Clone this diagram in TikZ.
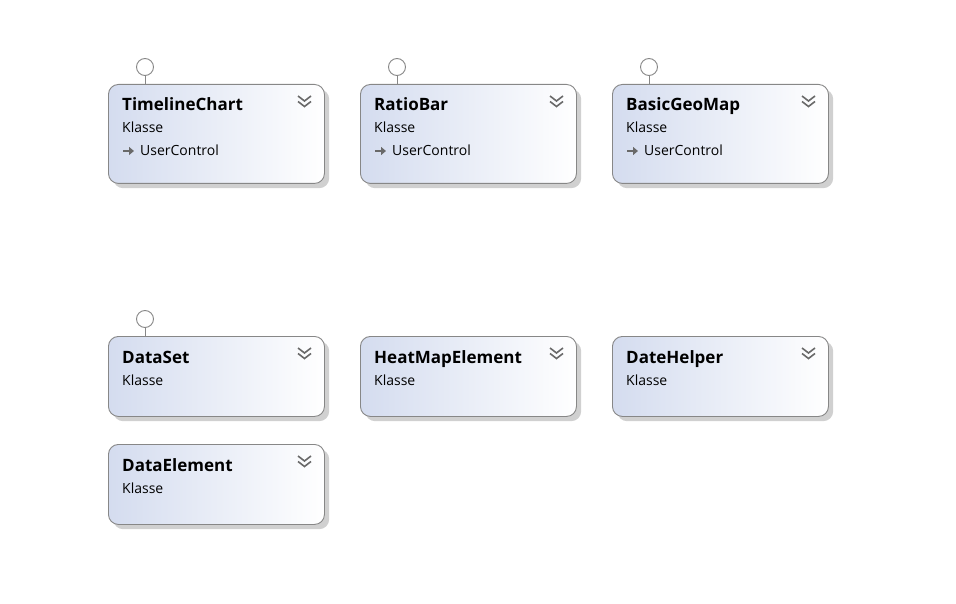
\documentclass[tikz,border=0pt]{standalone}
\usepackage{fontspec}
\setmainfont{Open Sans}
\usetikzlibrary{positioning,arrows.meta}

\definecolor{boxblue}{RGB}{212,220,239}
\definecolor{boxline}{RGB}{135,135,135}
\definecolor{boxshadow}{RGB}{208,208,208}
\definecolor{chevron}{RGB}{105,105,105}

\begin{document}
\begin{tikzpicture}[x=1pt, y=-1pt,
  classbox/.style = {shape=rectangle, rounded corners=10pt,
    draw=boxline, line width=0.9pt, anchor=north west, inner sep=0pt,
    minimum width=216pt, left color=boxblue, right color=white},
  shadowbox/.style = {shape=rectangle, rounded corners=10pt,
    fill=boxshadow, anchor=north west, inner sep=0pt, minimum width=216pt},
  classtitle/.style = {anchor=base west, inner sep=0pt, font=\fontsize{17}{20}\selectfont\bfseries},
  classkind/.style = {anchor=base west, inner sep=0pt, font=\fontsize{14}{17}\selectfont},
  lollipop/.style = {shape=circle, draw=boxline, fill=white, line width=0.9pt,
    minimum size=17pt, inner sep=0pt},
  chevron/.style = {draw=chevron, line width=1.6pt}]
  \useasboundingbox (0,0) rectangle (956,604);

  % class boxes
  \foreach \n/\x/\y/\h/\t in {tc/108/84/99/TimelineChart, rb/360/84/99/RatioBar,
      gm/612/84/99/BasicGeoMap, ds/108/336/80/DataSet, hm/360/336/80/HeatMapElement,
      dh/612/336/80/DateHelper, de/108/444/80/DataElement} {
    \node[shadowbox, minimum height=\h pt] at (\x+5,\y+5) {};
    \node[classbox, minimum height=\h pt] (\n) at (\x,\y) {};
    \node[classtitle] (\n-title) at (\x+14,\y+27) {\t};
    \node[classkind] (\n-kind) at (\x+14,\y+49) {Klasse};
    % collapse chevrons
    \draw[chevron] (\x+190,\y+12) -- (\x+196.5,\y+17) -- (\x+203,\y+12);
    \draw[chevron] (\x+190,\y+17.5) -- (\x+196.5,\y+22.5) -- (\x+203,\y+17.5);
  }

  % base class
  \foreach \n/\x/\y in {tc/108/84, rb/360/84, gm/612/84} {
    \node[classkind] (\n-base) at (\x+32,\y+72) {UserControl};
    \coordinate (\n-arrow) at (\x+15,\y+67);
    \draw[chevron, line width=1.4pt, -{Triangle[length=5pt, width=8pt]}] (\n-arrow) -- ++(11,0);
  }

  % interfaces
  \foreach \n in {tc, rb, gm, ds} {
    \node[lollipop] (\n-iface) at ([shift={(37,-17)}]\n.north west) {};
    \draw[boxline, line width=0.9pt] (\n-iface) -- (\n-iface |- \n.north);
  }
\end{tikzpicture}
\end{document}
